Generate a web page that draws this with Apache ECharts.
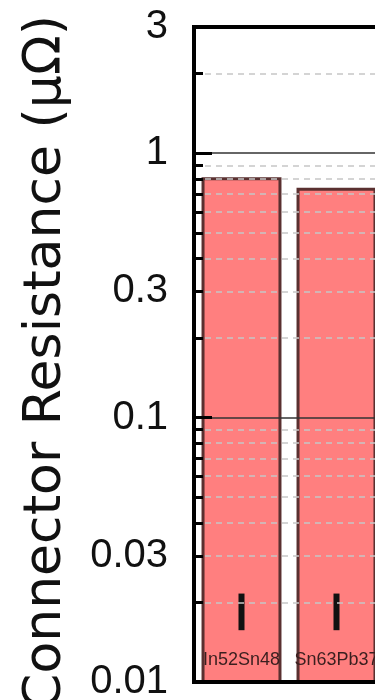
<!DOCTYPE html>
<html>
<head>
<meta charset="utf-8">
<script src="https://cdn.jsdelivr.net/npm/echarts@6/dist/echarts.min.js"></script>
<style>
html,body{margin:0;padding:0;background:#fff;}
#chart{width:375px;height:700px;}
</style>
</head>
<body>
<div id="chart"></div>
<script>
// ---- data ----
var categories = ['In52Sn48', 'Sn63Pb37'];
var resistance = [0.80, 0.73];          // bar heights (µΩ)
var errLow = [0.0157, 0.0157];          // small black markers near bottom
var errHigh = [0.0216, 0.0216];
var yLabelValues = [0.01, 0.03, 0.1, 0.3, 1, 3];
var yMajorTicks = [0.1, 1];
var yMinorTicks = [0.02, 0.03, 0.04, 0.05, 0.06, 0.07, 0.08, 0.09,
                   0.2, 0.3, 0.4, 0.5, 0.6, 0.7, 0.8, 0.9, 2];
var Y_MIN = 0.01, Y_MAX = 3;

var chart = echarts.init(document.getElementById('chart'), null, {renderer: 'canvas'});

function baseY(extra) {
  var o = {
    type: 'log', min: Y_MIN, max: Y_MAX, logBase: 10,
    gridIndex: 0, position: 'left',
    axisLine: {show: false},
    axisLabel: {show: false},
    axisTick: {show: false},
    splitLine: {show: false},
    minorTick: {show: false},
    minorSplitLine: {show: false}
  };
  for (var k in extra) o[k] = extra[k];
  return o;
}

var option = {
  animation: false,
  backgroundColor: '#fff',
  grid: {
    left: 194, top: 27, right: -9, bottom: 18,
    containLabel: false, outerBoundsMode: 'none',
    show: true, borderColor: '#000', borderWidth: 4, backgroundColor: 'transparent'
  },
  xAxis: {
    type: 'category',
    data: categories,
    position: 'bottom',
    axisLine: {show: true, lineStyle: {color: '#000', width: 4}},
    axisTick: {show: false},
    splitLine: {show: false},
    axisLabel: {
      inside: true, margin: 13, interval: 0,
      fontFamily: 'Liberation Sans, Arial, sans-serif', fontSize: 18, color: '#3a1f1f'
    },
    z: 5
  },
  yAxis: [
    baseY({
      name: 'Connector Resistance (μΩ)',
      nameLocation: 'middle', nameRotate: 90, nameGap: 122,
      nameTextStyle: {fontFamily: 'DejaVu Sans, sans-serif', fontSize: 52, color: '#111',
                      padding: [0, 16, 0, 0]},
      axisLine: {show: true, onZero: false, lineStyle: {color: '#000', width: 4}},
      axisLabel: {
        show: true, customValues: yLabelValues, margin: 26,
        fontFamily: 'Liberation Sans, Arial, sans-serif', fontSize: 40, color: '#111',
        formatter: function (v) { return String(Number(Number(v).toPrecision(2))); }
      },
      axisTick: {show: true, inside: true, length: 18, customValues: yMajorTicks,
                 lineStyle: {color: '#000', width: 3}},
      splitLine: {show: true, lineStyle: {color: '#333', width: 1.5, type: 'solid'}},
      z: 6
    }),
    baseY({
      axisTick: {show: true, inside: true, length: 9, customValues: yMinorTicks,
                 lineStyle: {color: '#000', width: 3}},
      splitLine: {show: true, lineStyle: {color: '#c6c6c6', width: 1.5, type: [6, 5]}},
      z: 6
    })
  ],
  series: [
    {
      type: 'custom',
      xAxisIndex: 0, yAxisIndex: 0,
      data: resistance.map(function (v, i) { return [i, v]; }),
      renderItem: function (params, api) {
        var i = api.value(0), v = api.value(1);
        var top = api.coord([i, v]);
        var base = api.coord([i, Y_MIN]);
        var bw = api.size([1, 0])[0] * 0.81;
        return {
          type: 'rect',
          shape: {x: top[0] - bw / 2, y: top[1], width: bw, height: base[1] - top[1]},
          style: {fill: 'rgba(255,0,0,0.5)', stroke: '#5a3030', lineWidth: 3}
        };
      },
      z: 2
    },
    {
      type: 'custom',
      xAxisIndex: 0, yAxisIndex: 0,
      data: errLow.map(function (lo, i) { return [i, lo, errHigh[i]]; }),
      renderItem: function (params, api) {
        var i = api.value(0);
        var p1 = api.coord([i, api.value(2)]);
        var p2 = api.coord([i, api.value(1)]);
        return {
          type: 'rect',
          shape: {x: p1[0] - 3, y: p1[1], width: 6, height: p2[1] - p1[1]},
          style: {fill: '#111'}
        };
      },
      z: 3
    }
  ]
};
chart.setOption(option);
</script>
</body>
</html>
